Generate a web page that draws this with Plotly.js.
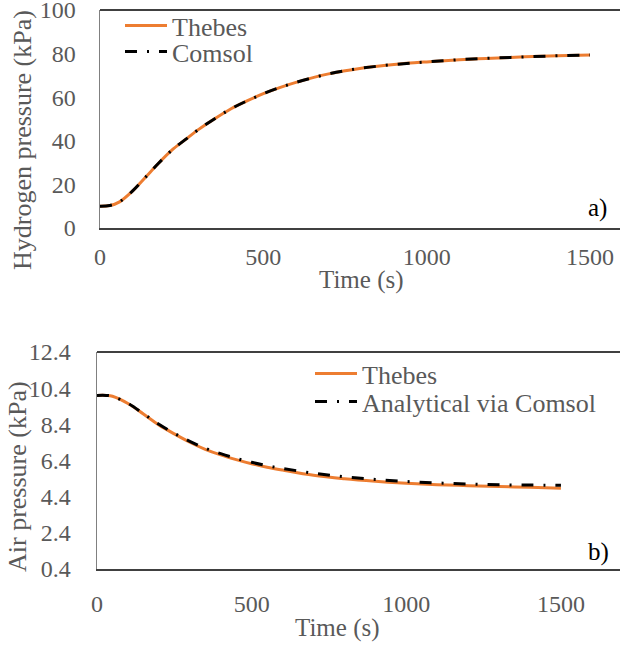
<!DOCTYPE html>
<html>
<head>
<meta charset="utf-8">
<script src="https://cdn.plot.ly/plotly-3.0.1.min.js"></script>
<style>html,body{margin:0;padding:0;background:#fff;}#chart{width:620px;height:646px;}</style>
</head>
<body>
<div id="chart"></div>
<script>
// ---- Data ----
// a) Hydrogen pressure
const timeH = [0, 30, 60, 100, 140, 180, 220, 260, 300, 350, 400, 450, 500, 550, 600, 700, 800, 900, 1000, 1100, 1200, 1300, 1400, 1500];
const thebesH = [10, 10.3, 12, 17, 23.4, 29.8, 35.7, 40.4, 45, 50, 54.6, 58.3, 61.6, 64.4, 66.8, 70.7, 73.3, 75.0, 76.2, 77.2, 77.9, 78.5, 79.0, 79.4];
const comsolH = [10, 10.3, 12, 17, 23.4, 29.8, 35.7, 40.4, 45, 50, 54.6, 58.3, 61.6, 64.4, 66.8, 70.7, 73.3, 75.0, 76.2, 77.2, 77.9, 78.5, 79.0, 79.4];
// b) Air pressure
const timeA = [0, 30, 50, 100, 150, 200, 250, 300, 350, 400, 450, 500, 550, 600, 700, 800, 900, 1000, 1100, 1200, 1300, 1400, 1500];
const thebesA = [10.0, 10.0, 9.95, 9.55, 8.97, 8.37, 7.87, 7.41, 7.02, 6.71, 6.45, 6.22, 6.03, 5.87, 5.58, 5.39, 5.25, 5.14, 5.06, 5.01, 4.96, 4.92, 4.87];
const comsolA = [10.0, 10.0, 9.95, 9.56, 8.99, 8.40, 7.90, 7.46, 7.08, 6.78, 6.52, 6.30, 6.11, 5.96, 5.70, 5.50, 5.35, 5.24, 5.16, 5.10, 5.06, 5.04, 5.03];
// Tick labels
const xTicks = [0, 500, 1000, 1500];
const yTicksH = [0, 20, 40, 60, 80, 100];
const yTicksA = [0.4, 2.4, 4.4, 6.4, 8.4, 10.4, 12.4];
const yTickTextA = ['0.4', '2.4', '4.4', '6.4', '8.4', '10.4', '12.4'];

const FONT = 'Liberation Serif, Times New Roman, serif';
const GREY = '#595959';
const ORANGE = '#ED7D31';
const DASH = '12px,10px,2px,10px';

const traces = [
  {x: timeH, y: thebesH, type: 'scatter', mode: 'lines', name: 'Thebes', line: {color: ORANGE, width: 3, shape: 'spline'}, xaxis: 'x', yaxis: 'y', legend: 'legend'},
  {x: timeH, y: comsolH, type: 'scatter', mode: 'lines', name: 'Comsol', line: {color: '#000000', width: 3, dash: DASH, shape: 'spline'}, xaxis: 'x', yaxis: 'y', legend: 'legend2'},
  {x: timeA, y: thebesA, type: 'scatter', mode: 'lines', name: 'Thebes', line: {color: ORANGE, width: 3, shape: 'spline'}, xaxis: 'x2', yaxis: 'y2', legend: 'legend3'},
  {x: timeA, y: comsolA, type: 'scatter', mode: 'lines', name: 'Analytical via Comsol', line: {color: '#000000', width: 3, dash: DASH, shape: 'spline'}, xaxis: 'x2', yaxis: 'y2', legend: 'legend4'}
];

const H = 646, W = 620;
const py = v => 1 - v / H; // pixel-from-top to paper
const px = v => v / W;

const axisCommon = {
  showgrid: false, zeroline: false, ticks: '', showline: true, ticklabeloverflow: 'allow',
  tickfont: {family: FONT, size: 24, color: GREY}, fixedrange: true
};

function legendAt(left, top) {
  return {
    x: px(left), y: py(top), xanchor: 'left', yanchor: 'top', bgcolor: 'rgba(0,0,0,0)',
    font: {family: FONT, size: 26, color: GREY}, itemwidth: 42, tracegroupgap: 0
  };
}

const layout = {
  width: W, height: H,
  margin: {l: 0, r: 0, t: 0, b: 0},
  paper_bgcolor: '#ffffff', plot_bgcolor: '#ffffff',
  font: {family: FONT, color: GREY},
  showlegend: true,
  xaxis: Object.assign({}, axisCommon, {
    domain: [px(100), 1], range: [0, 1592], tickvals: xTicks, linecolor: '#404040', linewidth: 1.5,
    anchor: 'y', ticklabelstandoff: 7
  }),
  yaxis: Object.assign({}, axisCommon, {
    domain: [py(228), py(10)], range: [0, 100], tickvals: yTicksH, linecolor: '#808080', linewidth: 1.5,
    anchor: 'x', ticklabelstandoff: 18
  }),
  xaxis2: Object.assign({}, axisCommon, {
    domain: [px(97), 1], range: [0, 1691], tickvals: xTicks, linecolor: '#404040', linewidth: 1.5,
    anchor: 'y2', ticklabelstandoff: 13
  }),
  yaxis2: Object.assign({}, axisCommon, {
    domain: [py(569), py(352)], range: [0.4, 12.4], tickvals: yTicksA, ticktext: yTickTextA,
    linecolor: '#808080', linewidth: 1.5, anchor: 'x2', ticklabelstandoff: 20
  }),
  legend: legendAt(120, 2),
  legend2: legendAt(120, 28),
  legend3: legendAt(310, 350),
  legend4: legendAt(310, 378),
  shapes: [
    {type: 'line', xref: 'x domain', yref: 'y domain', x0: 0, x1: 1, y0: 1, y1: 1, line: {color: '#000000', width: 1.5}},
    {type: 'line', xref: 'x2 domain', yref: 'y2 domain', x0: 0, x1: 1, y0: 1, y1: 1, line: {color: '#000000', width: 1.5}}
  ],
  annotations: [
    {text: 'Hydrogen pressure (kPa)', xref: 'paper', yref: 'paper', x: px(22), y: py(140), textangle: -90, showarrow: false, font: {family: FONT, size: 26, color: GREY}, xanchor: 'center', yanchor: 'middle'},
    {text: 'Time (s)', xref: 'paper', yref: 'paper', x: px(361), y: py(280), showarrow: false, font: {family: FONT, size: 25, color: GREY}, xanchor: 'center', yanchor: 'middle'},
    {text: 'a)', xref: 'paper', yref: 'paper', x: px(597), y: py(208), showarrow: false, font: {family: FONT, size: 25, color: '#000000'}, xanchor: 'center', yanchor: 'middle'},
    {text: 'Air pressure (kPa)', xref: 'paper', yref: 'paper', x: px(17), y: py(477), textangle: -90, showarrow: false, font: {family: FONT, size: 26, color: GREY}, xanchor: 'center', yanchor: 'middle'},
    {text: 'Time (s)', xref: 'paper', yref: 'paper', x: px(337), y: py(628), showarrow: false, font: {family: FONT, size: 25, color: GREY}, xanchor: 'center', yanchor: 'middle'},
    {text: 'b)', xref: 'paper', yref: 'paper', x: px(598), y: py(552), showarrow: false, font: {family: FONT, size: 25, color: '#000000'}, xanchor: 'center', yanchor: 'middle'}
  ]
};

Plotly.newPlot('chart', traces, layout, {staticPlot: true, displayModeBar: false});
</script>
</body>
</html>
